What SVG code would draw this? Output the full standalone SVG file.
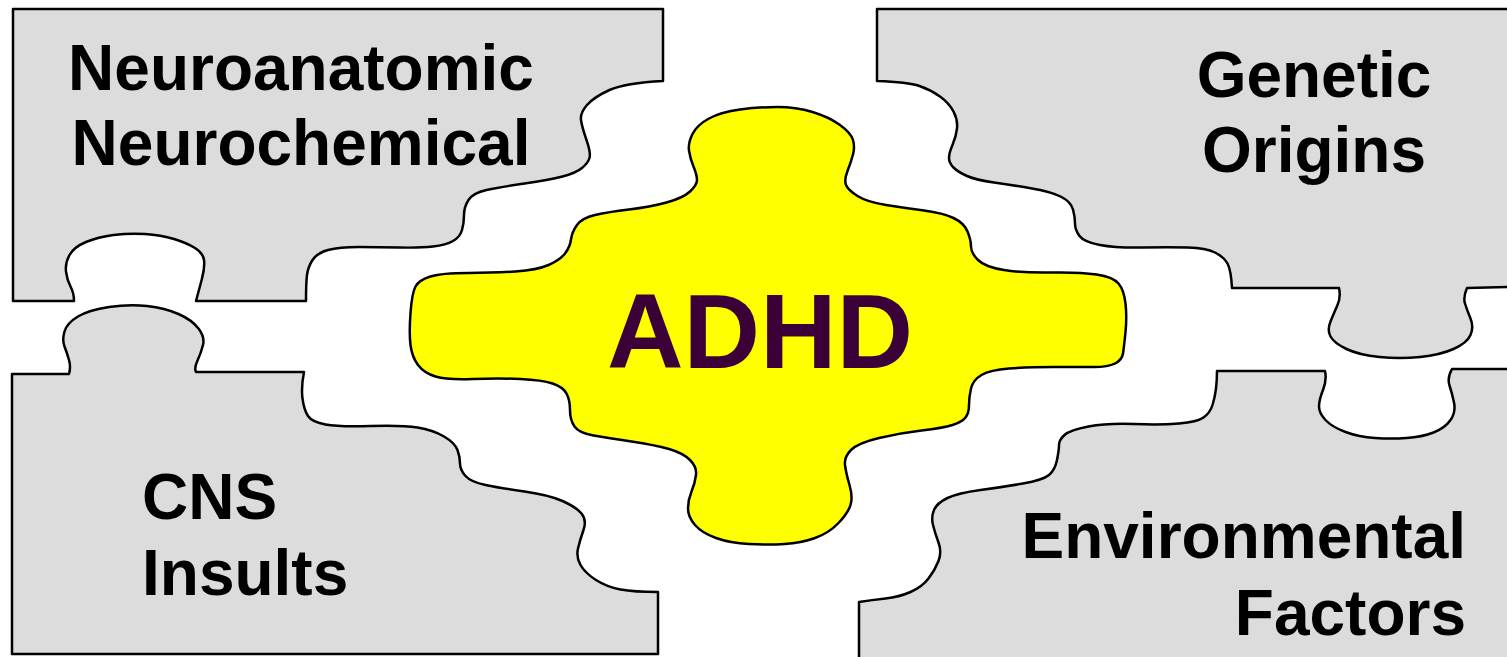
<svg xmlns="http://www.w3.org/2000/svg" width="1507" height="657" viewBox="0 0 1507 657">
<style>
.piece{fill:#dcdcdc;stroke:#000;stroke-width:2.5;stroke-linejoin:round}
.core{fill:#ffff00;stroke:#000;stroke-width:2.5;stroke-linejoin:round}
.lbl{font-family:"Liberation Sans",Arial,sans-serif;font-weight:bold;font-size:64px;fill:#000}
.big{font-family:"Liberation Sans",Arial,sans-serif;font-weight:bold;font-size:106px;fill:#3c0038}
</style>
<rect width="1507" height="657" fill="#fff"/>
<g id="neuro">
<path class="piece" d="M13,9 L663,9 L663,81 Q625,83 609.5,90 Q594,97 587,105 Q580,113 581,120 Q582,127 586.5,140 Q591,153 589.5,158 Q588,163 582,168 Q576,173 562.5,176.5 Q549,180 524.5,183.5 Q500,187 486.5,190 Q473,193 468.5,200 Q464,207 464,215 Q464,223 462,230 Q460,237 453,241 Q446,245 433,246.5 Q420,248 399.5,247.5 Q379,247 359,247 Q339,247 328,250 Q317,253 312.5,260 Q308,267 307,275 Q306,283 306,301 L196,301 Q199,290 202,278.5 Q205,267 204,260 Q203,253 195,248 Q187,243 174,239 Q161,235 145,234 Q129,233 113.5,235 Q98,237 86,242 Q74,247 69.5,255 Q65,263 66,271.5 Q67,280 70.5,286.5 Q74,293 74,301 L13,301 Z"/>
<text class="lbl" x="301" y="90" text-anchor="middle">Neuroanatomic</text>
<text class="lbl" x="301" y="165" text-anchor="middle">Neurochemical</text>
</g>
<g id="cns">
<path class="piece" d="M12,374 L69,374 Q71,367 69,360 Q67,353 64.5,346.5 Q62,340 64.5,331.5 Q67,323 78,316.5 Q89,310 109,307 Q129,304 147,306 Q165,308 178.5,314 Q192,320 198.5,328.5 Q205,337 203,345 Q201,353 197.5,360.5 Q194,368 196,372 L304,372 Q301,387 302.5,398.5 Q304,410 308,416 Q312,422 325.5,424.5 Q339,427 370.5,426 Q402,425 417.5,427.5 Q433,430 444,436.5 Q455,443 457.5,450 Q460,457 460,463.5 Q460,470 465.5,476 Q471,482 485.5,485 Q500,488 524.5,491.5 Q549,495 562.5,501 Q576,507 581.5,513.5 Q587,520 583.5,530 Q580,540 578,548.5 Q576,557 580.5,565 Q585,573 596,580 Q607,587 620.5,589.5 Q634,592 658,592 L658,654 L12,654 Z"/>
<text class="lbl" x="142" y="519">CNS</text>
<text class="lbl" x="142" y="595">Insults</text>
</g>
<g id="genetic">
<path class="piece" d="M877,9 L1512,9 L1512,287 L1467,288 Q1463,297 1465,303.5 Q1467,310 1470.5,318.5 Q1474,327 1470.5,335 Q1467,343 1453.5,349 Q1440,355 1420,357 Q1400,359 1379.5,357 Q1359,355 1346.5,349 Q1334,343 1330.5,336.5 Q1327,330 1330.5,321.5 Q1334,313 1337.5,305 Q1341,297 1339,288 L1232,288 Q1231,270 1227.5,263.5 Q1224,257 1215,252.5 Q1206,248 1188,247.5 Q1170,247 1143,247.5 Q1116,248 1100,245 Q1084,242 1079.5,236 Q1075,230 1075,223.5 Q1075,217 1073,209.5 Q1071,202 1061.5,197 Q1052,192 1032,188.5 Q1012,185 994,182.5 Q976,180 967,176 Q958,172 953.5,167.5 Q949,163 949,158 Q949,153 952.5,145 Q956,137 957,128.5 Q958,120 953.5,111.5 Q949,103 940,96.5 Q931,90 919.5,86 Q908,82 877,81 Z"/>
<text class="lbl" x="1314" y="97" text-anchor="middle">Genetic</text>
<text class="lbl" x="1314" y="172" text-anchor="middle">Origins</text>
</g>
<g id="environmental">
<path class="piece" d="M1217,371 L1325,371 Q1327,380 1323,390 Q1319,400 1319,406.5 Q1319,413 1325.5,420 Q1332,427 1345.5,432 Q1359,437 1375,438 Q1391,439 1406.5,438 Q1422,437 1433.5,432.5 Q1445,428 1450.5,420 Q1456,412 1454,402.5 Q1452,393 1449.5,385.5 Q1447,378 1452,369 L1512,369 L1512,662 L859,662 L859,602 Q872,600 885.5,598.5 Q899,597 910.5,592 Q922,587 928.5,578.5 Q935,570 938.5,561 Q942,552 938.5,542.5 Q935,533 933,525 Q931,517 934,510 Q937,503 947.5,498 Q958,493 980.5,490 Q1003,487 1023,483.5 Q1043,480 1049,475 Q1055,470 1057,460 Q1059,450 1059,445 Q1059,440 1064.5,435 Q1070,430 1088.5,426.5 Q1107,423 1134,424 Q1161,425 1179,423.5 Q1197,422 1203.5,417.5 Q1210,413 1212.5,405 Q1215,397 1216,388.5 Q1217,380 1217,371 Z"/>
<text class="lbl" x="1466" y="558" text-anchor="end">Environmental</text>
<text class="lbl" x="1466" y="635" text-anchor="end">Factors</text>
</g>
<g id="adhd">
<path class="core" d="M415.5,286.5 Q419,280 430.5,276.5 Q442,273 468,273 Q494,273 515.5,271.5 Q537,270 548.5,265 Q560,260 565,253.5 Q570,247 571,239.5 Q572,232 577,225 Q582,218 595,215 Q608,212 629,209.5 Q650,207 666.5,202.5 Q683,198 690,191.5 Q697,185 697,180 Q697,175 693.5,166.5 Q690,158 689,150.5 Q688,143 692.5,134 Q697,125 709,118.5 Q721,112 740,109.5 Q759,107 777.5,107 Q796,107 812.5,112 Q829,117 840,125 Q851,133 853,140 Q855,147 853,154.5 Q851,162 847.5,171 Q844,180 846,185 Q848,190 857.5,196 Q867,202 886,205 Q905,208 924,210.5 Q943,213 953.5,218 Q964,223 967.5,231.5 Q971,240 971,246.5 Q971,253 978,260 Q985,267 1004,270 Q1023,273 1051.5,272.5 Q1080,272 1096.5,274.5 Q1113,277 1118.5,283.5 Q1124,290 1125.5,303.5 Q1127,317 1125.5,332 Q1124,347 1123,353.5 Q1122,360 1115,363.5 Q1108,367 1094,367 Q1080,367 1054,367 Q1028,367 1009,368.5 Q990,370 981.5,375 Q973,380 971,388.5 Q969,397 969,405 Q969,413 965.5,417.5 Q962,422 952.5,425 Q943,428 921.5,430.5 Q900,433 879,438 Q858,443 851,450 Q844,457 845,465 Q846,473 849.5,485 Q853,497 850.5,505 Q848,513 838.5,523 Q829,533 815,538 Q801,543 784.5,544 Q768,545 749,544 Q730,543 716,538 Q702,533 695,525 Q688,517 688,508.5 Q688,500 691.5,491.5 Q695,483 696,475 Q697,467 690,460 Q683,453 669,449 Q655,445 631.5,441.5 Q608,438 593.5,435.5 Q579,433 574.5,426.5 Q570,420 570,410 Q570,400 566.5,393.5 Q563,387 552.5,383.5 Q542,380 520.5,379 Q499,378 473,379 Q447,380 435.5,376.5 Q424,373 418,365 Q412,357 410.5,345 Q409,333 410.5,313 Q412,293 415.5,286.5 Z"/>
<text class="big" x="760" y="368" text-anchor="middle">ADHD</text>
</g>
<g id="connectors"/>
</svg>
